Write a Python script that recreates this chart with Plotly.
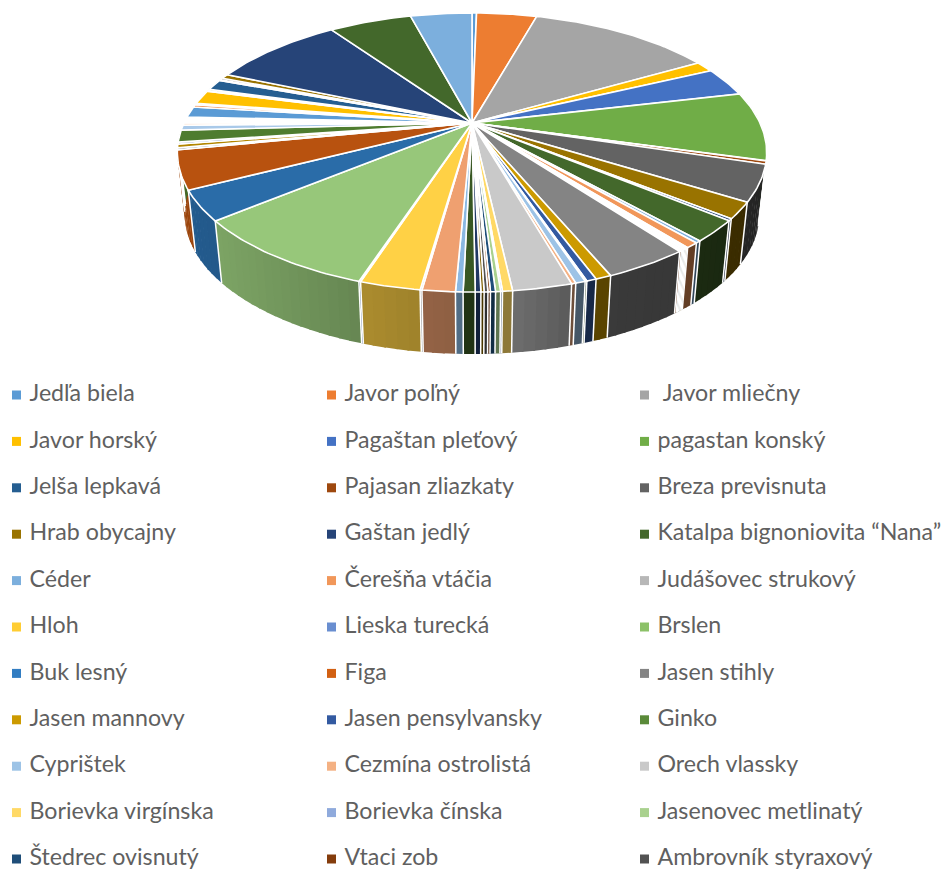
import math
import numpy as np
import plotly.graph_objects as go

# Species named in the legend (the remaining slices carry no visible name)
species = [
    "Jedľa biela", "Javor poľný", "\u00a0Javor mliečny",
    "Javor horský", "Pagaštan pleťový", "pagastan konský",
    "Jelša lepkavá", "Pajasan zliazkaty", "Breza previsnuta",
    "Hrab obycajny", "Gaštan jedlý", "Katalpa bignoniovita “Nana”",
    "Céder", "Čerešňa vtáčia", "Judášovec strukový",
    "Hloh", "Lieska turecká", "Brslen",
    "Buk lesný", "Figa", "Jasen stihly",
    "Jasen mannovy", "Jasen pensylvansky", "Ginko",
    "Cyprištek", "Cezmína ostrolistá", "Orech vlassky",
    "Borievka virgínska", "Borievka čínska", "Jasenovec metlinatý",
    "Štedrec ovisnutý", "Vtaci zob", "Ambrovník styraxový",
]

# Slice sizes, clockwise from twelve o'clock
values = [
    1.1, 14.6, 44.5, 4.5, 12.1, 28.6, 0.2, 1.3, 15.0, 6.7, 0.8, 8.8,
    0.9, 2.2, 0.3, 0.3, 0.3, 0.3, 0.3, 0.4, 14.0, 2.6, 1.6, 0.3,
    1.6, 0.7, 9.6, 1.6, 0.3, 0.8, 0.8, 0.4, 0.6, 0.5, 0.9, 1.9,
    1.2, 5.3, 0.3, 9.8, 0.3, 32.2, 12.4, 16.0, 0.8, 1.5, 0.8, 5.0,
    2.1, 0.9, 0.7, 0.7, 0.6, 0.6, 4.5, 1.0, 0.7, 5.7, 0.3, 0.7,
    4.5, 0.4, 0.8, 1.9, 32.0, 20.0, 14.9,
]

colors = [
    "#5B9BD5", "#ED7D31", "#A5A5A5", "#FFC000", "#4472C4", "#70AD47",
    "#255E91", "#9E480E", "#636363", "#997300", "#264478", "#43682B",
    "#7CAFDD", "#F1975A", "#B7B7B7", "#FFCD33", "#698ED0", "#8CC168",
    "#327DC2", "#D26012", "#848484", "#CC9A00", "#335AA1", "#5A8A39",
    "#9DC3E6", "#F4B183", "#C9C9C9", "#FFD966", "#8FAADC", "#A9D18E",
    "#1F4E79", "#843C0C", "#525252", "#7F6000", "#203864", "#385723",
    "#8AB8E2", "#EFA070", "#BEBEBE", "#FFD145", "#7A9AD8", "#97C77A",
    "#2A6CA8", "#B8520F", "#777777", "#B38600", "#2D4F8E", "#4E7C2F",
    "#A9C9E9", "#F6BE98", "#D2D2D2", "#FFE08A", "#A4BAE4", "#B7D9A0",
    "#5B9BD5", "#ED7D31", "#A5A5A5", "#FFC000", "#4472C4", "#70AD47",
    "#255E91", "#9E480E", "#636363", "#997300", "#264478", "#43682B",
    "#7CAFDD",
]

# Perspective model of the tilted disc
CX, CY = 472.0, 123.0
A, B, K = 288.0, 133.3, 0.2115
DEPTH, TAPER = 62.0, 0.975

# Wall brightness falls from left to right
SHADE_X = [180, 218, 362, 421, 511, 570, 677, 770]
SHADE_V = [0.85, 0.82, 0.67, 0.62, 0.55, 0.45, 0.42, 0.36]


def rim(deg):
    a = math.radians(deg)
    u, v = math.sin(a), math.cos(a)
    w = 1 + K * v
    return CX + A * u / w, CY - B * v / w


def floor(deg):
    x, y = rim(deg)
    return CX + (x - CX) * TAPER, y + DEPTH


def shaded(hex_color, x):
    s = float(np.interp(x, SHADE_X, SHADE_V))
    r, g, b = (int(hex_color[i:i + 2], 16) for i in (1, 3, 5))
    return f"rgb({r * s:.0f},{g * s:.0f},{b * s:.0f})"


total = sum(values)
edges = np.concatenate([[0.0], np.cumsum(values) * 360.0 / total])
WALL_FROM, WALL_TO = 70.0, 290.0

fig = go.Figure()

# Outer wall, split into narrow strips so the shading steps across it.
# Strips overlap slightly so no hairline shows between them.
for i, color in enumerate(colors):
    a0, a1 = max(edges[i], WALL_FROM), min(edges[i + 1], WALL_TO)
    if a1 <= a0:
        continue
    cuts = np.linspace(a0, a1, max(2, int((a1 - a0) / 2.0) + 2))
    for c0, c1 in zip(cuts[:-1], cuts[1:]):
        c2 = min(c1 + 0.35, a1)
        p = [rim(c0), rim(c2), floor(c2), floor(c0), rim(c0)]
        fill = shaded(color, (p[0][0] + p[1][0]) / 2)
        fig.add_trace(go.Scatter(
            x=[q[0] for q in p], y=[q[1] for q in p], mode="lines",
            fill="toself", fillcolor=fill, line=dict(color=fill, width=0),
            hoverinfo="skip", showlegend=False,
        ))

# White seams down the wall between neighbouring slices
seam_x, seam_y = [], []
for e in edges:
    if WALL_FROM < e < WALL_TO:
        x0, y0 = rim(e)
        x1, y1 = floor(e)
        seam_x += [x0, x1, None]
        seam_y += [y0, y1, None]
fig.add_trace(go.Scatter(
    x=seam_x, y=seam_y, mode="lines", line=dict(color="white", width=1.5),
    hoverinfo="skip", showlegend=False,
))

# Top face of every slice
for i, color in enumerate(colors):
    arc = np.linspace(edges[i], edges[i + 1], max(2, int(values[i] / 1.0) + 2))
    pts = [(CX, CY)] + [rim(a) for a in arc] + [(CX, CY)]
    fig.add_trace(go.Scatter(
        x=[q[0] for q in pts], y=[q[1] for q in pts], mode="lines",
        fill="toself", fillcolor=color, line=dict(color="white", width=1.6),
        hoverinfo="skip", showlegend=False,
    ))

# Three-column key below the pie
COL_X = [16.5, 331.5, 644.5]
ROW_Y0, ROW_STEP = 395.0, 46.4
key_x = [COL_X[i % 3] for i in range(len(species))]
key_y = [ROW_Y0 + (i // 3) * ROW_STEP for i in range(len(species))]
fig.add_trace(go.Scatter(
    x=key_x, y=key_y, mode="markers",
    marker=dict(symbol="square", size=9, color=colors[:len(species)], line=dict(width=0)),
    hoverinfo="skip", showlegend=False,
))
fig.add_trace(go.Scatter(
    x=[x + 13 for x in key_x], y=[y + 0.5 for y in key_y], mode="text", text=species,
    textposition="middle right",
    textfont=dict(family="Lato", size=23.2, color="#606060"),
    hoverinfo="skip", showlegend=False,
))

fig.update_layout(
    width=944, height=873, margin=dict(l=0, r=0, t=0, b=0),
    paper_bgcolor="white", plot_bgcolor="white",
    xaxis=dict(range=[0, 944], visible=False, fixedrange=True),
    yaxis=dict(range=[873, 0], visible=False, fixedrange=True),
)
fig.write_html("out.html", config=dict(displayModeBar=False))
